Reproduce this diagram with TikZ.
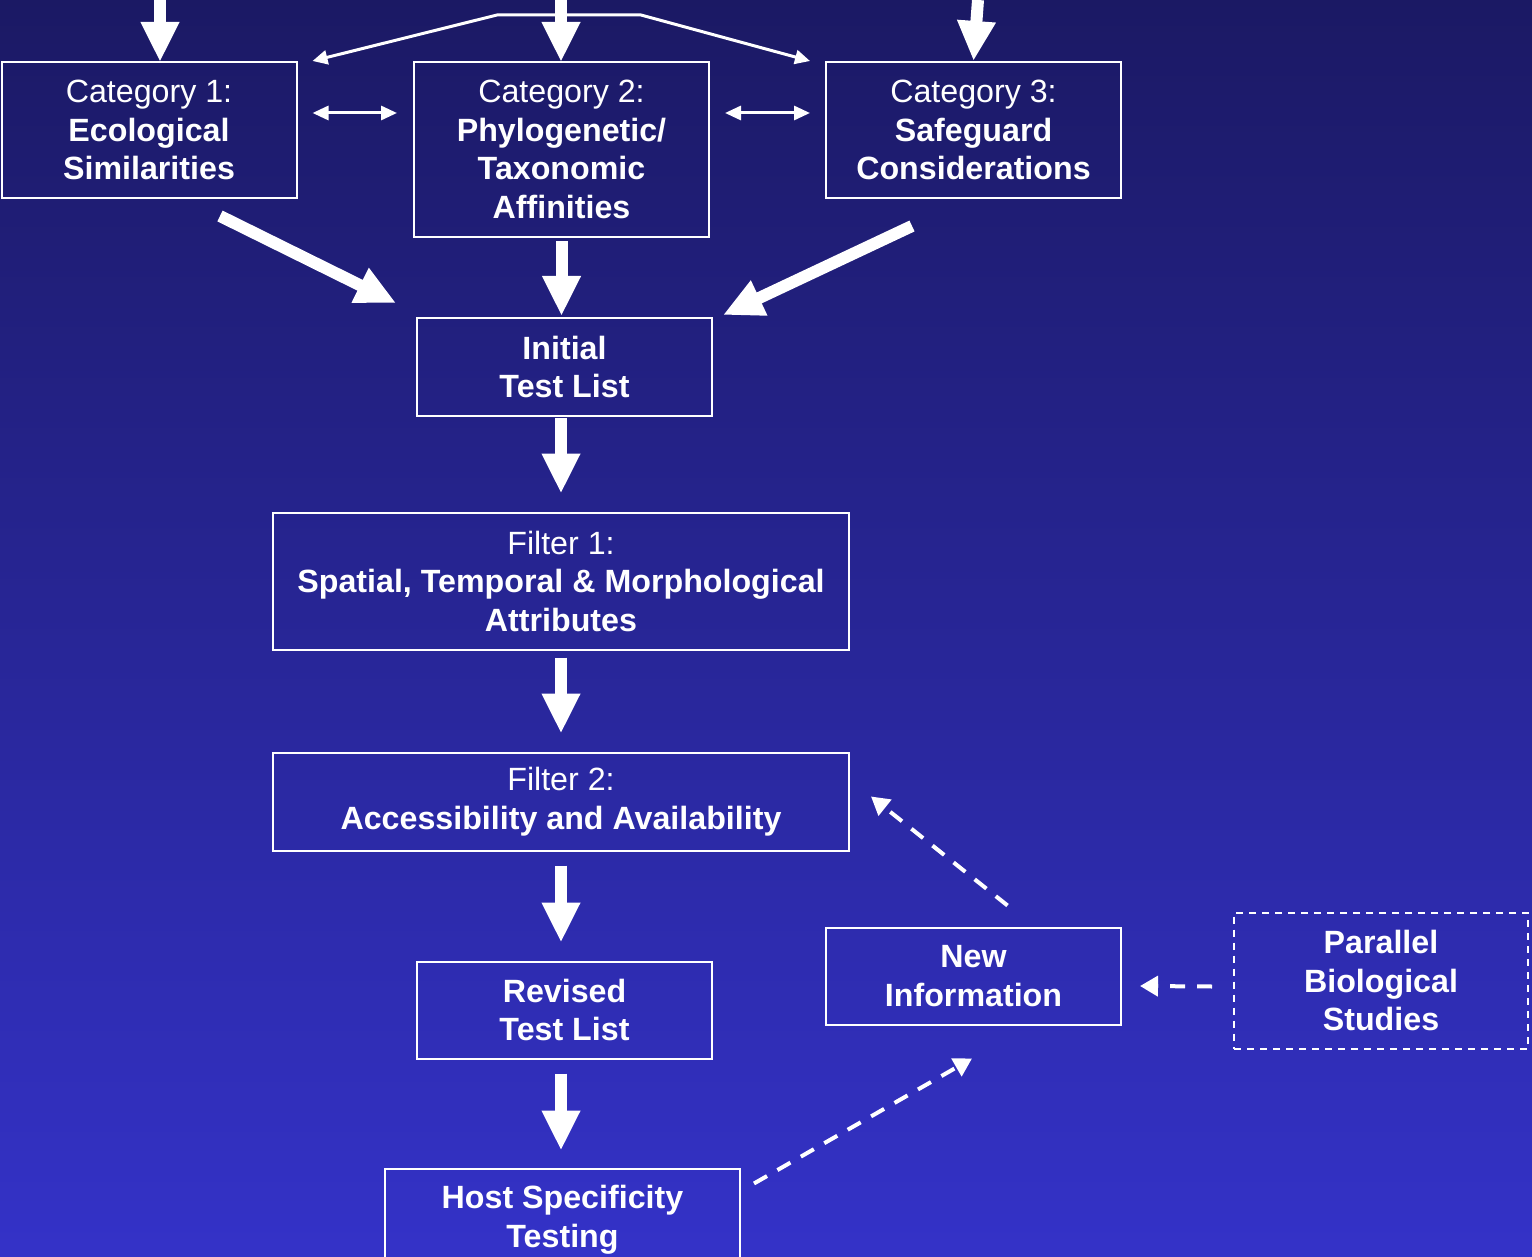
\documentclass[tikz,border=0pt]{standalone}
\usepackage{fontspec}
\setmainfont{Liberation Sans}
\usetikzlibrary{arrows.meta,calc}
\definecolor{bgtop}{RGB}{27,25,100}
\definecolor{bgbot}{RGB}{52,50,200}
\tikzset{
  box/.style={draw=white,line width=1pt,text=white,align=center,minimum width=147.5pt,inner sep=0pt},
  bigarrow/.style={white,line width=6pt,-{Triangle[width=18pt,length=20pt]}},
  forkarrow/.style={white,line width=1.5pt,line join=round,{Triangle[width=7pt,length=7.5pt]}-{Triangle[width=7pt,length=7.5pt]}},
  dblarrow/.style={white,line width=1.5pt,{Triangle[width=7pt,length=8pt]}-{Triangle[width=7pt,length=8pt]}},
  dasharrow/.style={white,line width=2pt,dash pattern=on 7.5pt off 6pt,-{Triangle[width=10pt,length=9pt]}}
}
\begin{document}
\begin{tikzpicture}[x=0.5pt,y=-0.5pt,font=\fontsize{16.1}{19.25}\selectfont]
\shade[top color=bgtop,bottom color=bgbot] (0,0) rectangle (1532,1257);
\useasboundingbox (0,0) rectangle (1532,1257);

\node[box,minimum height=68pt] (cat1) at (149,130) {Category 1:\\\textbf{Ecological}\\\textbf{Similarities}};
\node[box,minimum height=87.5pt] (cat2) at (561.5,149.5) {Category 2:\\\textbf{Phylogenetic/}\\\textbf{Taxonomic}\\\textbf{Affinities}};
\node[box,minimum height=68pt] (cat3) at (973.5,130) {Category 3:\\\textbf{Safeguard}\\\textbf{Considerations}};
\node[box,minimum height=49pt] (initlist) at (564.5,367) {\textbf{Initial}\\\textbf{Test List}};
\node[box,minimum width=288pt,minimum height=68.5pt] (filt1) at (561,581) {Filter 1:\\\textbf{Spatial, Temporal \& Morphological}\\\textbf{Attributes}};
\node[box,minimum width=288pt,minimum height=49pt] (filt2) at (561,801.5) {Filter 2:\\\textbf{Accessibility and Availability}};
\node[box,minimum height=48.5pt] (revlist) at (564.5,1010) {\textbf{Revised}\\\textbf{Test List}};
\node[box,minimum width=177.5pt,minimum height=51pt] (hosttest) at (562.5,1219.5) {\textbf{Host Specificity}\\\textbf{Testing}};
\node[box,minimum height=48.5pt] (newinfo) at (973.5,976) {\textbf{New}\\\textbf{Information}};
\node[box,dash pattern=on 3.5pt off 3pt,minimum width=147pt,minimum height=68pt] (parstud) at (1381,980.5) {\textbf{Parallel}\\\textbf{Biological}\\\textbf{Studies}};

\coordinate (top1) at (160,0);
\coordinate (top2) at (561,0);
\coordinate (top3) at (978,0);
\coordinate (fork1) at (497,15);
\coordinate (fork2) at (641,15);
\draw[bigarrow] (top1) -- ($(top1 |- cat1.north)+(0,1)$);
\draw[bigarrow] (top2) -- ($(top2 |- cat2.north)+(0,1)$);
\draw[bigarrow] (top3) -- (cat3.north);
\draw[forkarrow] ($(cat1.north east)+(15,0)$) -- (fork1) -- (fork2) -- ($(cat3.north west)+(-15,0)$);

\draw[dblarrow] ($(cat1.east)+(15,-17)$) -- ($(cat1.east -| cat2.west)+(-16,-17)$);
\draw[dblarrow] ($(cat1.east -| cat2.east)+(15,-17)$) -- ($(cat1.east -| cat3.west)+(-15,-17)$);

\draw[bigarrow] ($(cat1.south)+(71,17)$) -- ($(initlist.north west)+(-20,-14)$);
\draw[bigarrow] ($(cat2.south)+(0,3)$) -- ($(cat2.south |- initlist.north)+(0,-1)$);
\draw[bigarrow] ($(cat3.south)+(-61.5,27)$) -- ($(initlist.north east)+(10,-2)$);
\draw[bigarrow] ($(initlist.south -| filt1.north)+(0,1)$) -- ($(filt1.north)+(0,-18)$);
\draw[bigarrow] ($(filt1.south)+(0,7)$) -- ($(filt2.north)+(0,-18)$);
\draw[bigarrow] ($(filt2.south)+(0,14)$) -- ($(filt2.south |- revlist.north)+(0,-18)$);
\draw[bigarrow] ($(revlist.south -| filt2.south)+(0,14)$) -- ($(filt2.south |- hosttest.north)+(0,-17)$);

\draw[dasharrow] ($(newinfo.north)+(34,-21)$) -- ($(filt2.east)+(21,-5)$);
\draw[dasharrow] ($(parstud.west)+(-21,6)$) -- ($(newinfo.east)+(18,10)$);
\draw[dasharrow] ($(hosttest.north east)+(13,16)$) -- ($(newinfo.south)+(-1.5,33)$);
\end{tikzpicture}
\end{document}
